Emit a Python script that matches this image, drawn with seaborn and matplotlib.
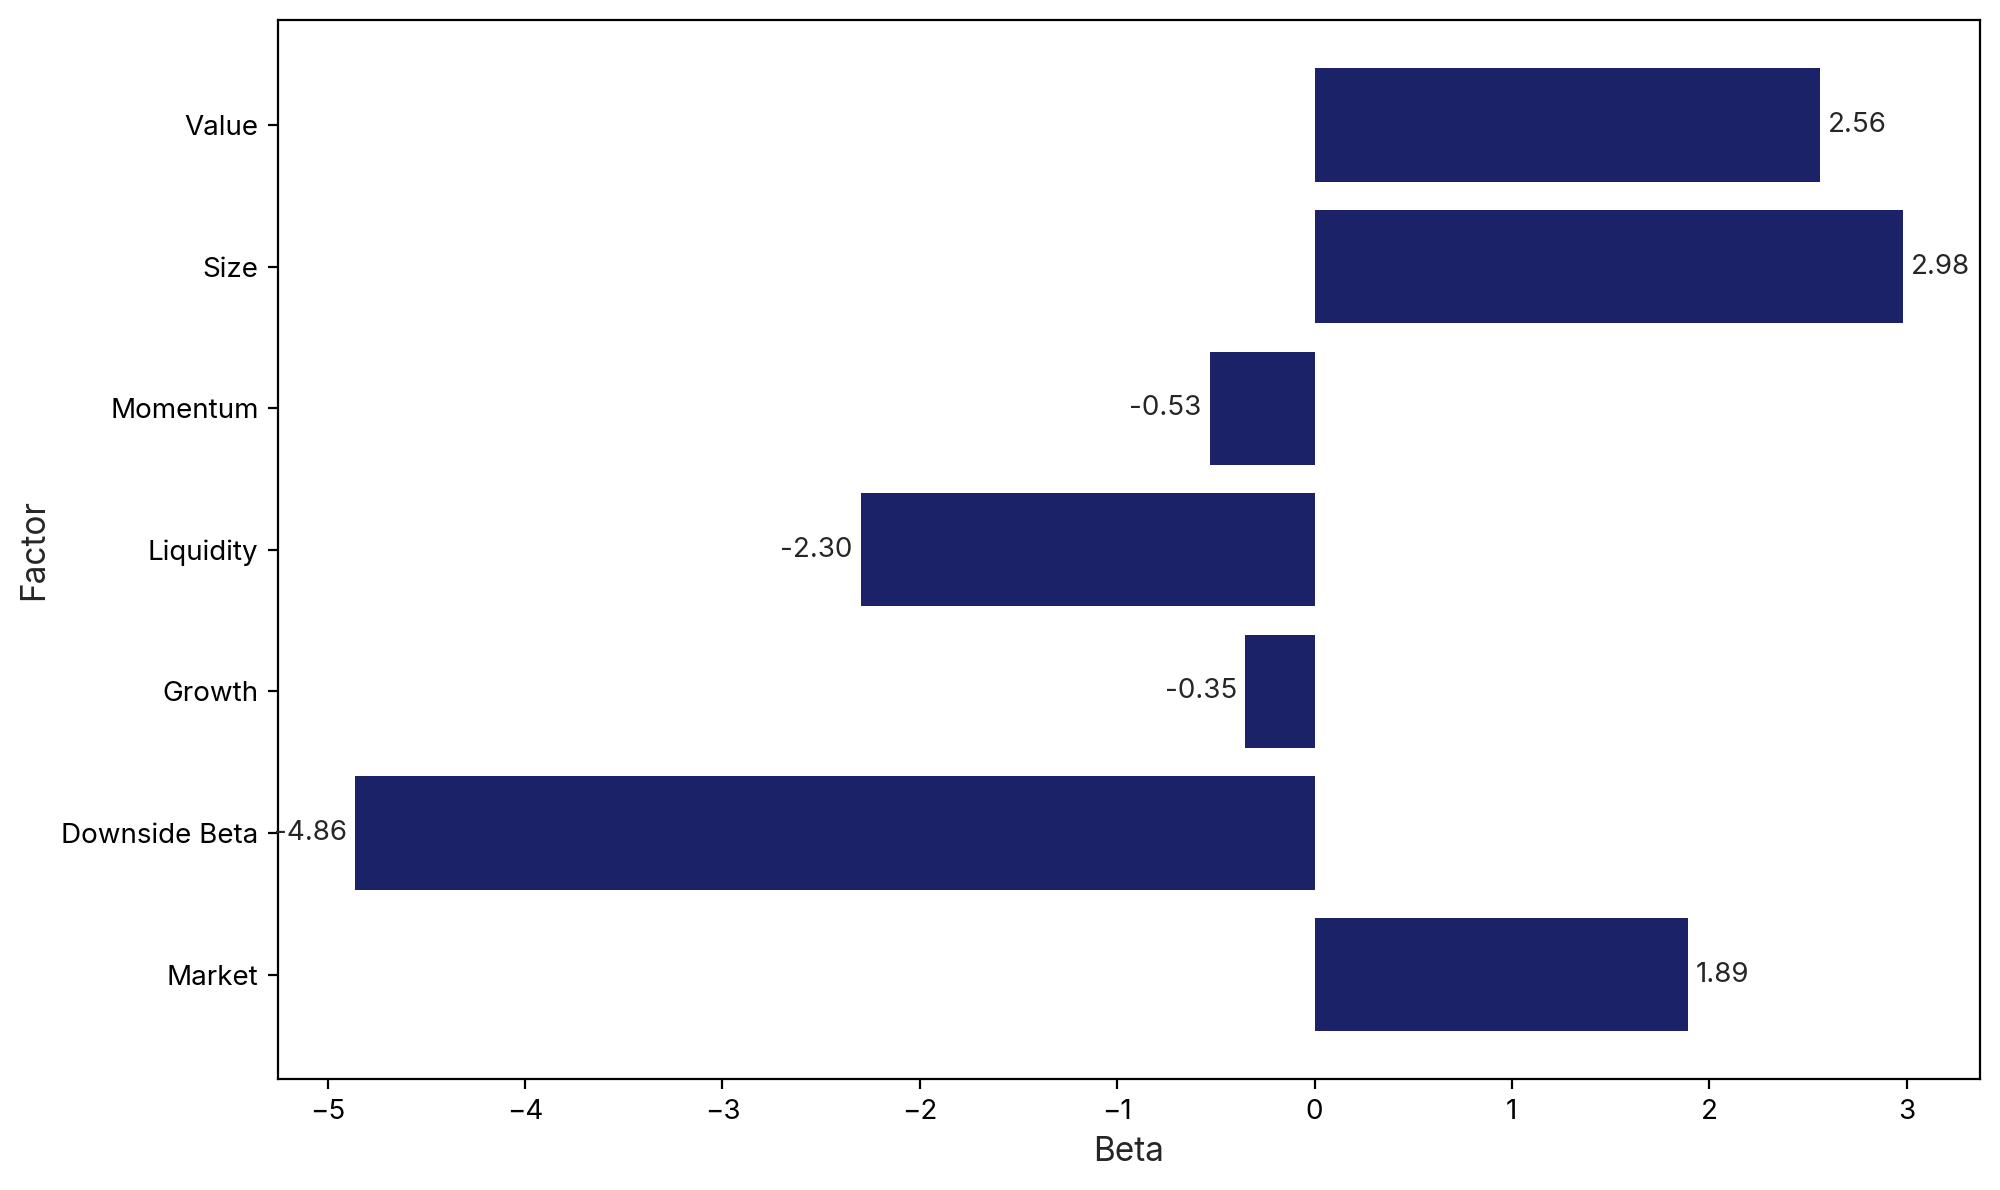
import matplotlib
matplotlib.use("Agg")
import matplotlib.pyplot as plt
import seaborn as sns
import pandas as pd

factors = ["Value", "Size", "Momentum", "Liquidity", "Growth", "Downside Beta", "Market"]
betas = [2.56, 2.98, -0.53, -2.30, -0.35, -4.86, 1.89]

sns.set_theme(style="ticks", rc={"xtick.major.size": 3.5, "ytick.major.size": 3.5,
                                 "xtick.major.width": 0.8, "ytick.major.width": 0.8})
plt.rcParams["font.family"] = ["Inter", "DejaVu Sans"]

df = pd.DataFrame({"Factor": factors, "Beta": betas})

fig, ax = plt.subplots(figsize=(10, 5.95), dpi=200)
sns.barplot(data=df, x="Beta", y="Factor", order=factors, color="#1B2268",
            saturation=1, width=0.8, orient="h", linewidth=0, ax=ax)
for c in ax.containers:
    ax.bar_label(c, fmt="%.2f", padding=3, fontsize=10)
for s in ax.spines.values():
    s.set_visible(True)
    s.set_color("black")
    s.set_linewidth(0.8)
ax.tick_params(colors="black", labelsize=10)
ax.set_xlabel("Beta", fontsize=12)
ax.set_ylabel("Factor", fontsize=12)
ax.margins(x=0.05)
n = len(factors)
ax.set_ylim(n - 1 + 0.4 + 0.05 * (n - 1 + 0.8), -0.4 - 0.05 * (n - 1 + 0.8))
fig.subplots_adjust(left=0.139, right=0.99, top=0.983, bottom=0.093)
fig.savefig("out.png", dpi=200)
